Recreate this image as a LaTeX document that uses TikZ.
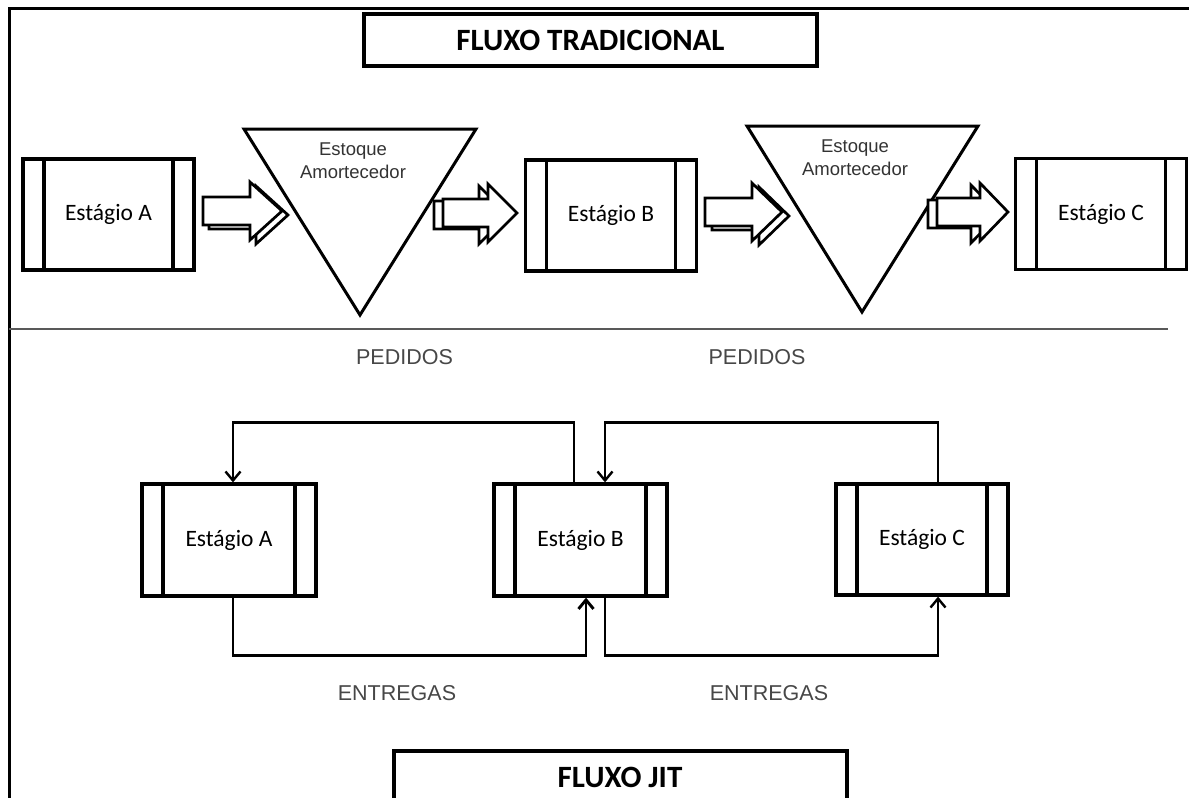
\documentclass[tikz,border=0pt]{standalone}
\usepackage{fontspec}
\setmainfont{Carlito}
\newfontfamily\arialfont{Liberation Sans}
\usetikzlibrary{arrows.meta,calc}

% outlined block arrow with an offset copy behind it:
% #1 tail x, #2 head base x, #3 tip x, #4 centre y, #5/#6 offset of the copy
\newcommand\blockarrow[6]{%
  \foreach \dx/\dy in {#5/#6,0/0}{%
    \draw[barrow, shift={(\dx,\dy)}]
      (#1,#4-14) -- (#2,#4-14) -- (#2,#4-29) -- (#3,#4)
      -- (#2,#4+29) -- (#2,#4+14) -- (#1,#4+14) -- cycle;}}

\begin{document}
\begin{tikzpicture}[x=1pt,y=-1pt,
  stage/.style={draw, line width=3.3pt, fill=white, minimum width=171pt,
    minimum height=111pt, inner sep=0pt,
    font=\fontsize{23.5}{26}\selectfont,
    path picture={\draw[line width=3.3pt]
      ([xshift=21pt]path picture bounding box.north west) --
      ([xshift=21pt]path picture bounding box.south west)
      ([xshift=-21pt]path picture bounding box.north east) --
      ([xshift=-21pt]path picture bounding box.south east);}},
  titlebox/.style={draw, line width=4pt, minimum width=453pt,
    minimum height=52pt, inner sep=0pt,
    font=\bfseries\fontsize{31}{34}\selectfont},
  stock/.style={align=center, text=black!80, inner sep=0pt,
    font=\arialfont\fontsize{18.5}{23}\selectfont},
  lbl/.style={text=black!72, inner sep=0pt,
    font=\arialfont\fontsize{21.5}{24}\selectfont},
  barrow/.style={draw, fill=white, line width=2.7pt, line join=miter},
  buffer/.style={draw, line width=3pt, line join=miter},
  conn/.style={line width=2.4pt, line join=miter,
    -{Straight Barb[length=9pt,width=15pt]}},
  frame/.style={line width=3pt}]

\useasboundingbox (0,0) rectangle (1189,798);
\fill[white] (0,0) rectangle (1189,798);

% page frame and section divider
\draw[frame] (9,800) -- (9,8) -- (1190,8);
\draw[black!65, line width=2pt] (9,329) -- (1168,329);

% ---------- traditional flow ----------
\node[titlebox] (t1) at (590.5,40) {FLUXO TRADICIONAL};

\draw[buffer] (244,129) -- (476,129) -- (360,315) -- cycle;
\draw[buffer] (747,126) -- (978,126) -- (862,312) -- cycle;
\node[stock] (e1) at (353,161) {Estoque\\Amortecedor};
\node[stock] (e2) at (855,158) {Estoque\\Amortecedor};

\node[stage] (a1) at (108.5,214.5) {Estágio A};
\node[stage] (b1) at (611,215.5) {Estágio B};
\node[stage] (c1) at (1101,214) {Estágio C};

\blockarrow{203}{250}{282}{211}{6}{4}
\blockarrow{443}{488}{517}{213}{-9}{2}
\blockarrow{705}{752}{782}{212}{7}{4}
\blockarrow{937}{980}{1008}{212}{-9}{2}

% ---------- JIT flow ----------
\node[stage, minimum width=174pt, minimum height=112pt] (a2) at (229,540) {Estágio A};
\node[stage, minimum width=173pt, minimum height=112pt] (b2) at (580.5,540) {Estágio B};
\node[stage, minimum width=172pt, minimum height=111pt] (c2) at (922,539.5) {Estágio C};

\node[lbl] (p1) at (404.5,357) {PEDIDOS};
\node[lbl] (p2) at (757,357) {PEDIDOS};
\node[lbl] (d1) at (397,693) {ENTREGAS};
\node[lbl] (d2) at (769,693) {ENTREGAS};

% orders travel upstream
\draw[conn] ([xshift=-6.5pt]b2.north) -- ++(0,-60) -| ([xshift=4pt]a2.north);
\draw[conn] ([xshift=16pt]c2.north) -- ++(0,-60) -| ([xshift=24.5pt]b2.north);
% deliveries travel downstream
\draw[conn, line width=2.9pt] ([xshift=4pt]a2.south) -- ++(0,58) -| ([xshift=5.5pt]b2.south);
\draw[conn] ([xshift=24.5pt]b2.south) -- ++(0,58) -| ([xshift=16pt]c2.south);

\node[titlebox] (t2) at (620,777) {FLUXO JIT};
\end{tikzpicture}
\end{document}
